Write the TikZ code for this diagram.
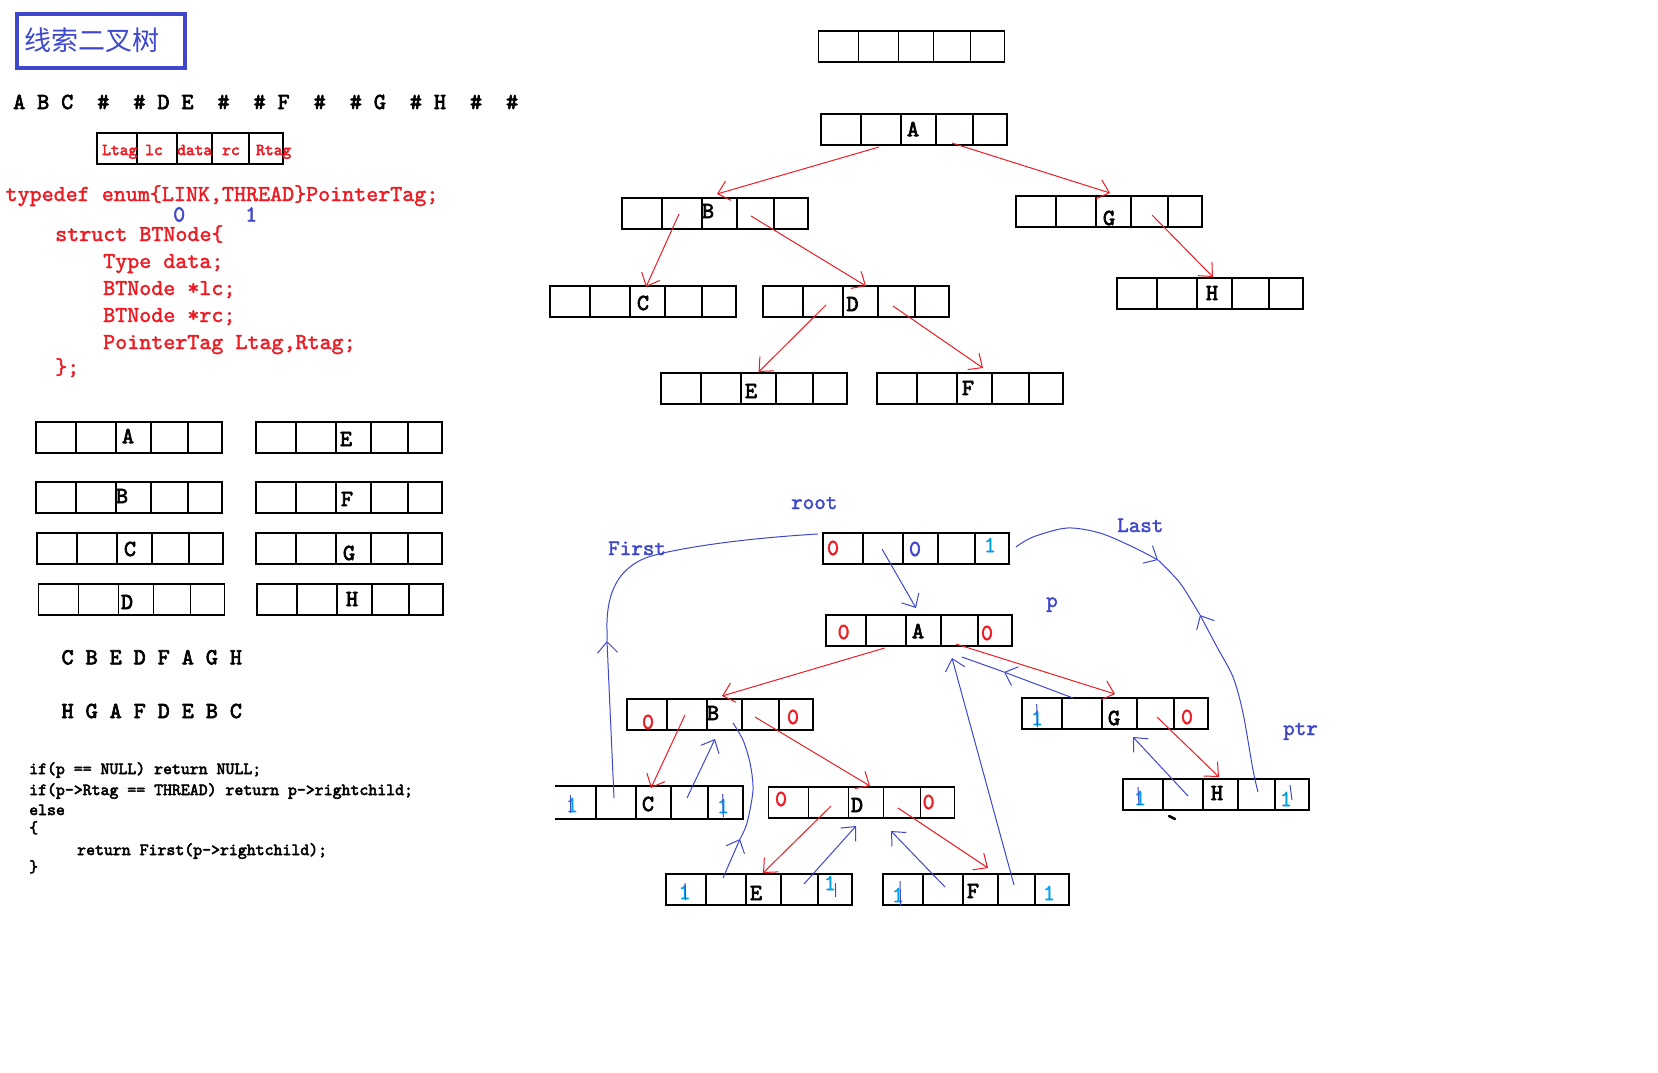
\documentclass[tikz,border=0pt]{standalone}
\usepackage{fontspec}
\setmainfont{Liberation Serif}
\newfontfamily\cf{lmmono10-regular.otf}[FakeBold=1.8]
\newfontfamily\cfb{lmmono10-regular.otf}[FakeBold=3]
\newfontfamily\cjk{Noto Sans CJK SC}
\usetikzlibrary{arrows.meta}
\definecolor{pred}{RGB}{237,28,36}
\definecolor{pblue}{RGB}{63,72,204}
\definecolor{plight}{RGB}{0,162,232}
\newcommand{\myfs}[1]{\fontsize{#1}{#1}\selectfont}
\tikzset{
  rec/.style={draw, line width=1.8pt, minimum width=186pt, minimum height=31pt, inner sep=0pt, anchor=north west,
    path picture={\foreach \d in {40,80,115,152}{\draw[line width=1.8pt] ([shift={(\d,0)}]path picture bounding box.north west) -- ([shift={(\d,0)}]path picture bounding box.south west);}}},
  lbl/.style={inner sep=0pt, font=\cfb\myfs{23}},
  dig/.style={inner sep=0pt, font=\cf\myfs{23}},
  ptxt/.style={inner sep=0pt, anchor=base west},
  pbig/.style={ptxt, font=\cf\myfs{22.9}},
  pbold/.style={ptxt, font=\cfb\myfs{22.9}},
  psmall/.style={ptxt, font=\cfb\myfs{17}},
  ptag/.style={ptxt, font=\cfb\myfs{16.7}, text=pred},
  pname/.style={ptxt, font=\cf\myfs{22}, text=pblue},
  rarr/.style={color=pred, line width=1pt, ->},
  barr/.style={color=pblue, line width=1pt, ->},
  bline/.style={color=pblue, line width=1pt},
}
\begin{document}
\begin{tikzpicture}[x=1pt,y=-1pt,>={Straight Barb[length=11pt,width=20pt]}]
\fill[white] (0,0) rectangle (1658,1072);
\useasboundingbox (0,0) rectangle (1658,1072);

% ---------- left column ----------
\node[draw=pblue, line width=4pt, minimum width=167.6pt, minimum height=53.7pt, anchor=north west, inner sep=0pt] (title) at (15,12) {};
\node[inner sep=0pt, font=\cjk\myfs{27}, text=pblue] (titletext) at (92,40) {线索二叉树};

\node[pbold] (preorder) at (13,109) {A~B~C~~\#~~\#~D~E~~\#~~\#~F~~\#~~\#~G~~\#~H~~\#~~\#};

\node[rec] (legend) at (96,132) {};
\node[ptag] (lgLtag) at (102,155) {Ltag};
\node[ptag] (lglc) at (145,155) {lc};
\node[ptag] (lgdata) at (177,155) {data};
\node[ptag] (lgrc) at (222,155) {rc};
\node[ptag] (lgRtag) at (256,155) {Rtag};

\node[pbig, text=pred] (td1) at (5.4,201) {typedef enum\{LINK,THREAD\}PointerTag;};
\node[pbig, text=pblue] (td0) at (173,221.5) {0};
\node[pbig, text=pblue] (td1b) at (245,221.5) {1};
\node[pbig, text=pred] (td2) at (55,241) {struct BTNode\{};
\node[pbig, text=pred] (td3) at (103,268) {Type data;};
\node[pbig, text=pred] (td4) at (103,295) {BTNode *lc;};
\node[pbig, text=pred] (td5) at (103,322) {BTNode *rc;};
\node[pbig, text=pred] (td6) at (103,349) {PointerTag Ltag,Rtag;};
\node[pbig, text=pred] (td7) at (55,374) {\};};

\node[rec] (lA) at (35,421) {};
\node[rec] (lB) at (35,481) {};
\node[rec] (lC) at (36.4,532) {};
\node[rec] (lD) at (37.5,583) {};
\node[rec] (lE) at (255,421) {};
\node[rec] (lF) at (255,481) {};
\node[rec] (lG) at (255,532) {};
\node[rec] (lH) at (256,583) {};
\node[lbl] (lAl) at (128,436) {A};
\node[lbl] (lBl) at (122,496) {B};
\node[lbl] (lCl) at (130,549) {C};
\node[lbl] (lDl) at (127,602) {D};
\node[lbl] (lEl) at (346,439) {E};
\node[lbl] (lFl) at (347,499) {F};
\node[lbl] (lGl) at (349,553) {G};
\node[lbl] (lHl) at (352,599) {H};

\node[pbold] (inorder) at (61.4,664.3) {C~B~E~D~F~A~G~H};
\node[pbold] (revorder) at (61.4,718) {H~G~A~F~D~E~B~C};

\node[psmall] (c1) at (29,774) {if(p == NULL) return NULL;};
\node[psmall] (c2) at (29,795) {if(p->Rtag == THREAD) return p->rightchild;};
\node[psmall] (c3) at (29,815) {else};
\node[psmall] (c4) at (29,833) {\{};
\node[psmall] (c5) at (77,855) {return First(p->rightchild);};
\node[psmall] (c6) at (29,872) {\}};

% ---------- top tree ----------
\node[rec] (tHead) at (817.5,30) {};
\node[rec] (tA) at (820,113) {};
\node[rec] (tB) at (621.4,197) {};
\node[rec] (tG) at (1015,195) {};
\node[rec] (tC) at (549,285) {};
\node[rec] (tD) at (762,285) {};
\node[rec] (tH) at (1116,277) {};
\node[rec] (tE) at (660,372) {};
\node[rec] (tF) at (876,372) {};
\node[lbl] (tAl) at (913,129) {A};
\node[lbl] (tBl) at (708,211) {B};
\node[lbl] (tGl) at (1109,218) {G};
\node[lbl] (tCl) at (643,303) {C};
\node[lbl] (tDl) at (852.5,304) {D};
\node[lbl] (tHl) at (1212,293) {H};
\node[lbl] (tEl) at (751,391) {E};
\node[lbl] (tFl) at (968,388) {F};

\draw[rarr] ([shift={(59,34)}]tA.north west) -- ([shift={(95.6,-3)}]tB.north west);
\draw[rarr] ([shift={(132,30)}]tA.north west) -- ([shift={(95,-2)}]tG.north west);
\draw[rarr] ([shift={(57.6,17)}]tB.north west) -- ([shift={(97,2)}]tC.north west);
\draw[rarr] ([shift={(129.6,19)}]tB.north west) -- ([shift={(104,1)}]tD.north west);
\draw[rarr] ([shift={(64,20)}]tD.north west) -- ([shift={(98.6,0)}]tE.north west);
\draw[rarr] ([shift={(131,21)}]tD.north west) -- ([shift={(107,-4)}]tF.north west);
\draw[rarr] ([shift={(137,20)}]tG.north west) -- ([shift={(97,0)}]tH.north west);

% ---------- bottom (threaded) tree ----------
\node[rec] (bRoot) at (822,532) {};
\node[rec] (bA) at (825,614) {};
\node[rec] (bB) at (626,698) {};
\node[rec, draw=none] (bC) at (555,786) {};
\draw[line width=1.8pt] (bC.north west) -- (bC.north east) -- (bC.south east) -- (bC.south west);
\node[rec] (bD) at (767.5,786) {};
\node[rec] (bE) at (665,873) {};
\node[rec] (bF) at (882,873) {};
\node[rec] (bG) at (1021,697) {};
\node[rec] (bH) at (1122,778) {};

\node[dig, text=pred] (bRoot0a) at (833,548) {0};
\node[dig, text=pblue] (bRoot0b) at (915,549) {0};
\node[dig, text=plight] (bRoot1) at (990,545) {1};
\node[dig, text=pred] (bA0a) at (843.6,632) {0};
\node[lbl] (bAl) at (918,631) {A};
\node[dig, text=pred] (bA0b) at (987,633) {0};
\node[dig, text=pred] (bB0a) at (648,722) {0};
\node[lbl] (bBl) at (713,713) {B};
\node[dig, text=pred] (bB0b) at (793,717) {0};
\node[dig, text=plight] (bC1a) at (572,805) {1};
\node[lbl] (bCl) at (648,804) {C};
\node[dig, text=plight] (bC1b) at (723,806) {1};
\node[dig, text=pred] (bD0a) at (781,799) {0};
\node[lbl] (bDl) at (857,805) {D};
\node[dig, text=pred] (bD0b) at (928.6,802) {0};
\node[dig, text=plight] (bE1a) at (684.6,892) {1};
\node[lbl] (bEl) at (756,893) {E};
\node[dig, text=plight] (bE1b) at (830,883) {1};
\node[dig, text=plight] (bF1a) at (898,895) {1};
\node[lbl] (bFl) at (973,891) {F};
\node[dig, text=plight] (bF1b) at (1049,893) {1};
\node[dig, text=plight] (bG1) at (1037,718) {1};
\node[lbl] (bGl) at (1114,718) {G};
\node[dig, text=pred] (bG0) at (1187,717) {0};
\node[dig, text=plight] (bH1a) at (1140,798) {1};
\node[lbl] (bHl) at (1217,793) {H};
\node[dig, text=plight] (bH1b) at (1286,799) {1};

\draw[bline] (570.7,795) -- (570.7,813);
\draw[bline] (722.7,794) -- (723.3,817);
\draw[bline] (685,883) -- (685.7,900);
\draw[bline] (835.4,883) -- (835.7,897);
\draw[bline] (900,881) -- (900.7,906);
\draw[bline] (1036.7,704) -- (1037.3,727);
\draw[bline] (1138,787) -- (1139,805);
\draw[bline] (1290,785) -- (1292,800);
\draw[line width=2.5pt, line cap=round] (1169,816) -- (1175,819);

\node[pname] (lroot) at (791,509) {root};
\node[pname] (lfirst) at (608,555) {First};
\node[pname] (llast) at (1117,532) {Last};
\node[pname] (lp) at (1046,607) {p};
\node[pname] (lptr) at (1283,735) {ptr};

% red child links
\draw[rarr] ([shift={(59.6,34)}]bA.north west) -- ([shift={(96,-2)}]bB.north west);
\draw[rarr] ([shift={(131,30)}]bA.north west) -- ([shift={(94,-3)}]bG.north west);
\draw[rarr] ([shift={(59,17)}]bB.north west) -- ([shift={(96,2)}]bC.north west);
\draw[rarr] ([shift={(129,19)}]bB.north west) -- ([shift={(102.5,0)}]bD.north west);
\draw[rarr] ([shift={(63.5,20)}]bD.north west) -- ([shift={(98,0)}]bE.north west);
\draw[rarr] ([shift={(130.5,22)}]bD.north west) -- ([shift={(106,-5)}]bF.north west);
\draw[rarr] ([shift={(136,20)}]bG.north west) -- ([shift={(97,-1)}]bH.north west);

% blue thread links
\draw[barr] ([shift={(60,17)}]bRoot.north west) -- ([shift={(91,-6)}]bA.north west);
\draw[barr] ([shift={(132,12)}]bC.north west) -- ([shift={(89,41)}]bB.north west);
\draw[barr] ([shift={(139,11)}]bE.north west) -- ([shift={(88.5,40)}]bD.north west);
\draw[barr] ([shift={(63,14)}]bF.north west) -- ([shift={(123.5,45)}]bD.north west);
\draw[barr] ([shift={(132,12)}]bF.north west) -- ([shift={(127,44)}]bA.north west);
\draw[barr] ([shift={(66,18)}]bH.north west) -- ([shift={(112,40)}]bG.north west);

\coordinate (gah) at (1004,672);
\draw[barr] ([shift={(52,1)}]bG.north west) -- (gah);
\draw[bline] (gah) -- ([shift={(137,43)}]bA.north west);

\coordinate (eb1) at ([shift={(58,5)}]bE.north west);
\coordinate (ebh) at (740,839);
\coordinate (eb2) at ([shift={(107,25)}]bB.north west);
\draw[barr] (eb1) -- (ebh);
\draw[bline] plot[smooth] coordinates {(ebh) (747,823) (753,790) (750,763) (743,740) (eb2)};

\coordinate (firsth) at (607,641);
\draw[barr] ([shift={(59,12)}]bC.north west) -- (firsth);
\draw[bline] (firsth) -- (607,630) .. controls (606,590) and (620,564) .. (655,555)
  .. controls (690,546) and (750,538) .. ([shift={(-4,2)}]bRoot.north west);

\coordinate (last1) at ([shift={(6,15)}]bRoot.north east);
\coordinate (lasth1) at (1158,560);
\coordinate (lasth2) at (1200,615);
\coordinate (last2) at ([shift={(136,14)}]bH.north west);
\draw[barr] plot[smooth] coordinates {(last1) (1033,537) (1067,528) (1100,533) (1133,547) (lasth1)};
\draw[bline] plot[smooth] coordinates {(lasth1) (1180,583) (lasth2)};
\draw[barr, <-] plot[smooth] coordinates {(lasth2) (1217,647) (1233,677) (1243,713) (1253,770) (last2)};
\end{tikzpicture}
\end{document}
